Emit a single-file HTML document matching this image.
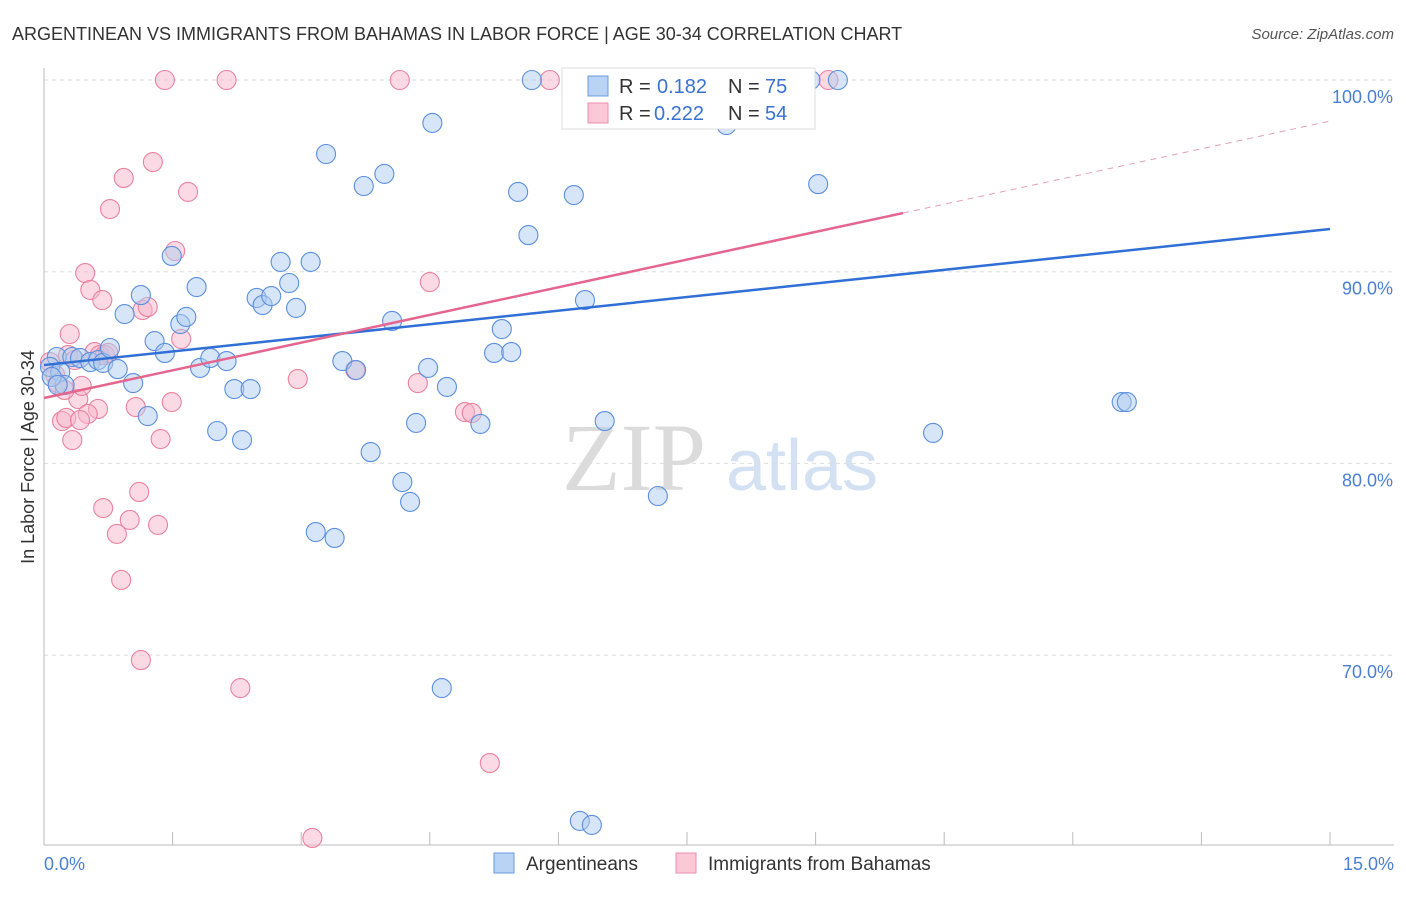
<!DOCTYPE html>
<html><head><meta charset="utf-8"><style>
body{margin:0;background:#fff;font-family:"Liberation Sans",sans-serif}
svg text{font-family:"Liberation Sans",sans-serif}
</style></head><body>
<svg id="chart" width="1406" height="892" xmlns="http://www.w3.org/2000/svg">
<text x="12" y="40" font-size="18" fill="#333">ARGENTINEAN VS IMMIGRANTS FROM BAHAMAS IN LABOR FORCE | AGE 30-34 CORRELATION CHART</text>
<text x="1394" y="39" font-size="15" fill="#555" text-anchor="end" font-style="italic">Source: ZipAtlas.com</text>
<g><text x="634" y="490" font-size="96" fill="#d0d0d0" text-anchor="middle" style="font-family:'Liberation Serif',serif" opacity="0.75">ZIP</text><text x="802" y="490" font-size="72" fill="#c5d8ef" text-anchor="middle" opacity="0.75">atlas</text></g>
<g id="grid"></g><g id="axes"></g><g id="marks"></g>
<text transform="translate(34,457) rotate(-90)" font-size="18" fill="#333" text-anchor="middle">In Labor Force | Age 30-34</text>
<text x="44" y="870" font-size="18" fill="#4a7fd4">0.0%</text>
<text x="1394" y="870" font-size="18" fill="#4a7fd4" text-anchor="end">15.0%</text>
<g>
<rect x="562" y="68" width="253" height="61" fill="#fff" stroke="#ddd"/>
<rect x="588" y="76" width="20" height="20" fill="#b8d3f4" stroke="#6a9be0"/>
<rect x="588" y="103" width="20" height="20" fill="#fbc8d8" stroke="#eb8fae"/>
<text x="619" y="93" font-size="20" fill="#333">R =</text><text x="657" y="93" font-size="20" fill="#3a72d0">0.182</text><text x="728" y="93" font-size="20" fill="#333">N =</text><text x="765" y="93" font-size="20" fill="#3a72d0">75</text>
<text x="619" y="120" font-size="20" fill="#333">R =</text><text x="654" y="120" font-size="20" fill="#3a72d0">0.222</text><text x="728" y="120" font-size="20" fill="#333">N =</text><text x="765" y="120" font-size="20" fill="#3a72d0">54</text>
</g>
<g>
<rect x="494" y="853" width="20" height="20" fill="#b8d3f4" stroke="#6a9be0"/>
<text x="526" y="870" font-size="19" fill="#333">Argentineans</text>
<rect x="676" y="853" width="20" height="20" fill="#fbc8d8" stroke="#eb8fae"/>
<text x="708" y="870" font-size="19" fill="#333">Immigrants from Bahamas</text>
</g>
</svg>
<script>
const yTicks=[100,90,80,70];
const yTickLabels=["100.0%","90.0%","80.0%","70.0%"];
const xTicks=[0,1.5,3,4.5,6,7.5,9,10.5,12,13.5,15];
const blueX=[0.15,0.07,0.19,0.24,0.33,0.42,0.54,0.63,0.69,0.77,0.86,0.94,1.04,1.13,1.21,1.29,1.41,1.49,1.59,1.66,1.78,1.82,1.94,2.02,2.13,2.22,2.31,2.41,2.48,2.55,2.65,2.76,2.86,2.94,3.11,3.17,3.29,3.39,3.48,3.64,3.73,3.81,3.97,4.06,4.18,4.27,4.34,4.48,4.53,4.64,4.70,5.09,5.25,5.34,5.45,5.53,5.65,5.69,6.18,6.25,6.31,6.39,6.54,6.72,7.16,7.54,7.96,8.94,9.03,9.26,10.37,12.57,12.63,0.09,0.16];
const blueY=[85.55,85.03,84.77,84.09,85.55,85.50,85.29,85.39,85.24,86.02,84.92,87.79,84.19,88.78,82.47,86.38,85.76,90.82,87.27,87.64,89.20,84.98,85.50,81.69,85.34,83.88,81.22,83.88,88.63,88.26,88.73,90.51,89.41,88.11,90.51,76.42,96.14,76.11,85.34,84.87,94.47,80.59,95.10,87.43,79.03,77.99,82.11,84.98,97.76,68.28,83.99,82.06,85.76,87.01,85.81,94.16,91.91,100,94.00,61.35,88.52,61.14,82.21,100,78.30,100,97.65,100,94.57,100,81.59,83.20,83.20,84.51,84.09];
const pinkX=[0.07,0.13,0.16,0.21,0.26,0.30,0.33,0.40,0.44,0.48,0.54,0.63,0.68,0.69,0.77,0.85,0.90,0.93,1.00,1.07,1.11,1.13,1.15,1.21,1.27,1.33,1.36,1.41,1.49,1.53,1.60,1.68,2.13,2.29,2.96,3.13,3.63,4.15,4.36,4.50,4.91,4.99,5.20,5.90,9.15,0.59,0.65,0.71,0.75,0.51,0.28,0.36,0.42,0.24];
const pinkY=[85.29,84.61,84.19,82.21,82.37,86.75,81.22,83.36,84.04,89.93,89.05,82.84,88.52,77.67,93.27,76.32,73.92,94.89,77.05,82.94,78.51,69.74,88.00,88.16,95.72,76.79,81.27,100,83.20,91.08,86.49,94.16,100,68.28,84.40,60.46,84.87,100,84.19,89.46,82.68,82.63,64.37,100,100,85.81,85.65,85.65,85.76,82.58,85.65,85.39,82.26,83.83];
const blueFit=[85.13,0.473];
const pinkFit=[83.41,0.963];
const pinkSolidEnd=10.02;

const NS="http://www.w3.org/2000/svg";
const sx=v=>44+v*(1286/15);
const sy=v=>80+(100-v)*19.17;
function mk(tag,attrs,parent){const e=document.createElementNS(NS,tag);for(const k in attrs)e.setAttribute(k,attrs[k]);parent.appendChild(e);return e;}
const grid=document.getElementById('grid'),axes=document.getElementById('axes'),marks=document.getElementById('marks');
yTicks.forEach((t,i)=>{
  const l=mk('line',{x1:44,x2:1394,y1:sy(t),y2:sy(t),stroke:'#ddd','stroke-dasharray':'4,4'},grid);
  
  
  const tx=mk('text',{x:1393,y:sy(t)+23,'font-size':18,fill:'#4a7fd4','text-anchor':'end'},grid);
  tx.textContent=yTickLabels[i];
  
  
});
const ya=mk('line',{x1:44,x2:44,y1:68,y2:845,stroke:'#bbb'},axes);


const xa=mk('line',{x1:44,x2:1394,y1:845,y2:845,stroke:'#bbb'},axes);


xTicks.forEach(t=>{
  const l=mk('line',{x1:sx(t),x2:sx(t),y1:832,y2:845,stroke:'#bbb'},axes);
  
  
});
function dots(xs,ys,fill,stroke,name){
  xs.forEach((x,i)=>{
    const c=mk('circle',{cx:sx(x),cy:sy(ys[i]),r:9.5,fill:fill,'fill-opacity':0.5,stroke:stroke,'stroke-width':1.1},marks);
    
    
  });
}
dots(pinkX,pinkY,'#f7b6cb','#e8829f','bahamas-point');
dots(blueX,blueY,'#aecbf0','#5b8fdc','argentinean-point');
const bl=mk('line',{x1:sx(0),y1:sy(blueFit[0]),x2:sx(15),y2:sy(blueFit[0]+blueFit[1]*15),stroke:'#2f6fd6','stroke-width':2.5},marks);


const pl=mk('line',{x1:sx(0),y1:sy(pinkFit[0]),x2:sx(pinkSolidEnd),y2:sy(pinkFit[0]+pinkFit[1]*pinkSolidEnd),stroke:'#e4668f','stroke-width':2.5},marks);


const pd=mk('line',{x1:sx(pinkSolidEnd),y1:sy(pinkFit[0]+pinkFit[1]*pinkSolidEnd),x2:sx(15),y2:sy(pinkFit[0]+pinkFit[1]*15),stroke:'#e4a0b8','stroke-width':1,'stroke-dasharray':'6,5'},marks);


</script>
</body></html>
